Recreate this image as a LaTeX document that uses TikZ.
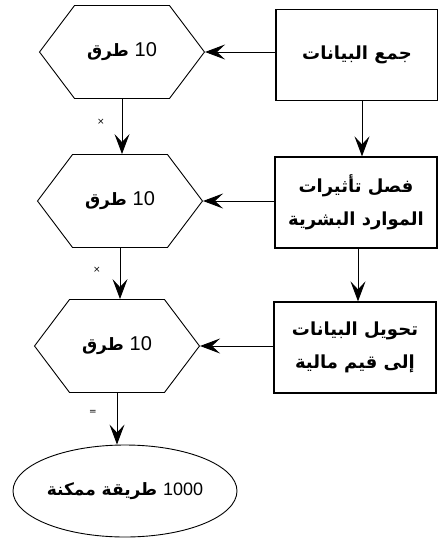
\documentclass[tikz,border=0pt]{standalone}
\usepackage{fontspec}
\setmainfont{DejaVu Sans}
\newfontfamily\arabicfont[Script=Arabic]{DejaVu Sans}
\newfontfamily\digitfont{Liberation Sans}
\TeXXeTstate=1
\usetikzlibrary{arrows.meta,shapes.geometric,shapes.symbols}
\newcommand\num[2]{\beginL{\digitfont\mdseries\fontsize{#1}{#1}\selectfont #2}\endL{}}
\tikzset{
	hexa/.style={draw,line width=0.9pt,signal,signal to=east and west,signal pointer angle=106,
		minimum width=165pt,minimum height=93pt,inner sep=0pt,font=\arabicfont\bfseries\fontsize{17}{20}\selectfont},
	stepbox/.style={draw,line width=1.3pt,minimum width=162pt,minimum height=91pt,align=center,
		font=\arabicfont\bfseries\fontsize{18}{33}\selectfont},
	oval/.style={draw,line width=0.9pt,ellipse,minimum width=224pt,minimum height=92pt,inner sep=0pt,
		font=\arabicfont\bfseries\fontsize{17}{20}\selectfont},
	flow/.style={line width=0.9pt,-{Stealth[length=20pt,width=15pt,inset=8pt]}},
	sign/.style={font=\fontsize{9}{10}\selectfont}
}
\begin{document}
\begin{tikzpicture}[x=1pt,y=-1pt]
	\useasboundingbox (0,0) rectangle (438,539);
	% ways
		\node [hexa] (hex1) at (122,52) {\beginR\num{20}{10} طرق\endR};
		\node [hexa] (hex2) at (120,201) {\beginR\num{20}{10} طرق\endR};
		\node [hexa] (hex3) at (117,346) {\beginR\num{20}{10} طرق\endR};
		\node [oval] (total) at (125,491) {\beginR\num{18}{1000} طريقة ممكنة\endR};
	% steps
		\node [stepbox] (box1) at (357,55) {\beginR جمع البيانات\endR};
		\node [stepbox] (box2) at (356,202.5) {\beginR فصل تأثيرات\endR\\\beginR الموارد البشرية\endR};
		\node [stepbox] (box3) at (355,347.5) {\beginR تحويل البيانات\endR\\\beginR إلى قيم مالية\endR};
	% arrows
		\draw [flow] (box1.west |- hex1.east) -- (hex1.east);
		\draw [flow] (box2.west |- hex2.east) -- (hex2.east);
		\draw [flow] (box3.west |- hex3.east) -- (hex3.east);
		\draw [flow] (box1.south -| 362,0) -- (box2.north -| 362,0);
		\draw [flow] (box2.south -| 358,0) -- (box3.north -| 358,0);
		\draw [flow] (hex1.south) -- (hex1.south |- hex2.north);
		\draw [flow] (hex2.south) -- (hex2.south |- hex3.north);
		\draw [flow] (hex3.south) -- (hex3.south |- total.north);
	% signs
		\node [sign] (times1) at (101,122) {×};
		\node [sign] (times2) at (97,270) {×};
		\node [sign] (equals) at (93,412) {=};
\end{tikzpicture}
\end{document}
